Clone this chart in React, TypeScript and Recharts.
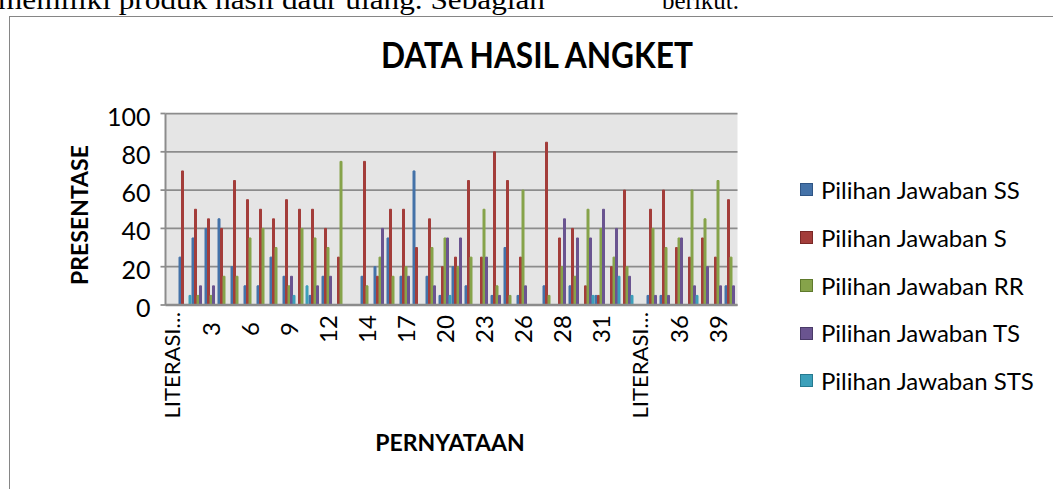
import React from 'react';
import { BarChart, Bar, XAxis, YAxis, CartesianGrid, Legend } from 'recharts';

const categories = [
  'LITERASI…', '1', '2', '3', '4', '5', '6', '7', '8', '9', '10', '11', '12', '13', ' ',
  '14', '15', '16', '17', '18', '19', '20', '21', '22', '23', '24', '25', '26', '  ',
  '27', '28', '29', '30', '31', '32', '33', 'LITERASI… ', '34', '35', '36', '37', '38', '39', '40',
];

const seriesSS = [0, 25, 35, 40, 45, 20, 10, 10, 25, 15, 0, 5, 15, 0, 0, 15, 20, 35, 15, 70, 15, 5, 20, 10, 0, 5, 30, 5, 0, 10, 0, 10, 0, 5, 0, 0, 0, 5, 5, 0, 0, 0, 0, 10];
const seriesS = [0, 70, 50, 45, 40, 65, 55, 50, 45, 55, 50, 50, 40, 25, 0, 75, 15, 50, 50, 30, 45, 20, 25, 65, 25, 80, 65, 25, 0, 85, 35, 40, 10, 5, 20, 60, 0, 50, 60, 30, 25, 35, 25, 55];
const seriesRR = [0, 0, 5, 5, 15, 15, 35, 40, 30, 10, 40, 35, 30, 75, 0, 10, 25, 15, 20, 0, 30, 35, 20, 25, 50, 10, 5, 60, 0, 5, 20, 15, 50, 40, 25, 20, 0, 40, 30, 35, 60, 45, 65, 25];
const seriesTS = [0, 0, 10, 10, 0, 0, 0, 0, 0, 15, 0, 10, 15, 0, 0, 0, 40, 0, 15, 0, 10, 35, 35, 0, 25, 5, 0, 10, 0, 0, 45, 35, 35, 50, 40, 15, 0, 5, 5, 35, 10, 20, 10, 10];
const seriesSTS = [0, 5, 0, 0, 0, 0, 0, 0, 0, 5, 10, 0, 0, 0, 0, 0, 0, 0, 0, 0, 0, 5, 0, 0, 0, 0, 0, 0, 0, 0, 0, 0, 5, 0, 15, 5, 0, 0, 0, 0, 5, 0, 0, 0];

const yTicks = [0, 20, 40, 60, 80, 100];

const seriesNames = [
  'Pilihan Jawaban SS',
  'Pilihan Jawaban S',
  'Pilihan Jawaban RR',
  'Pilihan Jawaban TS',
  'Pilihan Jawaban STS',
];

const data = categories.map((label, i) => ({
  label,
  ss: seriesSS[i],
  s: seriesS[i],
  rr: seriesRR[i],
  ts: seriesTS[i],
  sts: seriesSTS[i],
}));

const FONT = 'Lato, "Open Sans", sans-serif';
const GRID = '#8c8c8c';

const borderOf: Record<string, string> = {
  '#4472a8': '#2f5585',
  '#a33d3a': '#7a2826',
  '#86a34a': '#5f7a2c',
  '#6a5490': '#4a3a68',
  '#3ca0ba': '#267a90',
};

const XTick = (props: any) => {
  const { x, y, payload } = props;
  const v = String(payload.value).trim();
  if (!v) return null;
  const isLong = v.startsWith('LITERASI');
  const fs = isLong ? 22 : 24;
  const bx = x + fs * 0.36;
  const ty = isLong ? y : y + 17;
  return (
    <text
      x={bx}
      y={ty}
      transform={`rotate(-90 ${bx} ${ty})`}
      textAnchor={isLong ? 'end' : 'middle'}
      fontFamily={FONT}
      fontSize={fs}
      fill="#000"
    >
      {v}
    </text>
  );
};

const YTick = (props: any) => {
  const { x, y, payload } = props;
  const fs = 25;
  return (
    <text x={x} y={y + fs * 0.36 + 3} textAnchor="end" fontFamily={FONT} fontSize={fs} fill="#000">
      {payload.value}
    </text>
  );
};

const renderLegend = (props: any) => {
  const items = [...(props.payload || [])].sort(
    (a: any, b: any) => seriesNames.indexOf(a.value) - seriesNames.indexOf(b.value)
  );
  return (
    <div>
      {items.map((e: any, i: number) => (
        <div key={i} style={{ display: 'flex', alignItems: 'center', height: 47.75 }}>
          <span
            style={{
              display: 'inline-block',
              width: 11,
              height: 11,
              background: e.color,
              border: `1px solid ${borderOf[e.color] || '#333'}`,
              marginRight: 8,
              flex: 'none',
            }}
          />
          <span style={{ fontFamily: FONT, fontSize: 24, color: '#000', lineHeight: '47.75px', whiteSpace: 'nowrap' }}>
            {e.value}
          </span>
        </div>
      ))}
    </div>
  );
};

export default function App() {
  return (
    <div style={{ position: 'absolute', left: 0, top: 0, width: 1053, height: 489, overflow: 'hidden', background: '#fff' }}>
      <div style={{ position: 'absolute', left: 9, top: 16, width: 1100, height: 600, border: '1.5px solid #868686', boxSizing: 'border-box' }} />
      <div style={{ position: 'absolute', left: 0, top: 0 }}>
        <BarChart
          width={1053}
          height={489}
          data={data}
          margin={{ top: 113.5, right: 315.5, bottom: 0, left: 105.5 }}
          barCategoryGap={0.5}
          barGap={0.5}
        >
          <CartesianGrid vertical={false} stroke={GRID} strokeWidth={1.75} fill="#e5e5e5" strokeOpacity={1} />
          <XAxis
            dataKey="label"
            interval={2}
            height={184}
            tickSize={0}
            tickMargin={7}
            tickLine={false}
            axisLine={{ stroke: GRID, strokeWidth: 2.5 }}
            tick={<XTick />}
          />
          <YAxis
            domain={[0, 100]}
            ticks={yTicks}
            width={60}
            tickSize={5}
            tickMargin={10}
            tickLine={{ stroke: GRID, strokeWidth: 1.75 }}
            axisLine={{ stroke: GRID, strokeWidth: 2 }}
            tick={<YTick />}
          />
          <Legend
            layout="vertical"
            align="center"
            verticalAlign="middle"
            itemSorter={null as any}
            wrapperStyle={{ left: 800, top: 166, width: 250, right: 'auto', bottom: 'auto' }}
            content={renderLegend}
          />
          <Bar dataKey="ss" name={seriesNames[0]} fill="#4472a8" stroke="#4472a8" strokeWidth={1} isAnimationActive={false} />
          <Bar dataKey="s" name={seriesNames[1]} fill="#a33d3a" stroke="#a33d3a" strokeWidth={1} isAnimationActive={false} />
          <Bar dataKey="rr" name={seriesNames[2]} fill="#86a34a" stroke="#86a34a" strokeWidth={1} isAnimationActive={false} />
          <Bar dataKey="ts" name={seriesNames[3]} fill="#6a5490" stroke="#6a5490" strokeWidth={1} isAnimationActive={false} />
          <Bar dataKey="sts" name={seriesNames[4]} fill="#3ca0ba" stroke="#3ca0ba" strokeWidth={1} isAnimationActive={false} />
        </BarChart>
      </div>
      <svg width={1053} height={489} style={{ position: 'absolute', left: 0, top: 0, pointerEvents: 'none' }}>
        <text x={-2} y={9} fontFamily='"Liberation Serif", serif' fontSize={28} textLength={547} lengthAdjust="spacingAndGlyphs" fill="#000">
          memiliki produk hasil daur ulang. Sebagian
        </text>
        <text x={662} y={9} fontFamily='"Liberation Serif", serif' fontSize={25} fill="#000">
          berikut.
        </text>
        <text x={537} y={68} textAnchor="middle" fontFamily={FONT} fontWeight={700} fontSize={36} textLength={312} lengthAdjust="spacingAndGlyphs" fill="#000">
          DATA HASIL ANGKET
        </text>
        <text x={88} y={215} transform="rotate(-90 88 215)" textAnchor="middle" fontFamily={FONT} fontWeight={700} fontSize={23} fill="#000">
          PRESENTASE
        </text>
        <text x={450} y={451} textAnchor="middle" fontFamily={FONT} fontWeight={700} fontSize={23} fill="#000">
          PERNYATAAN
        </text>
      </svg>
    </div>
  );
}
